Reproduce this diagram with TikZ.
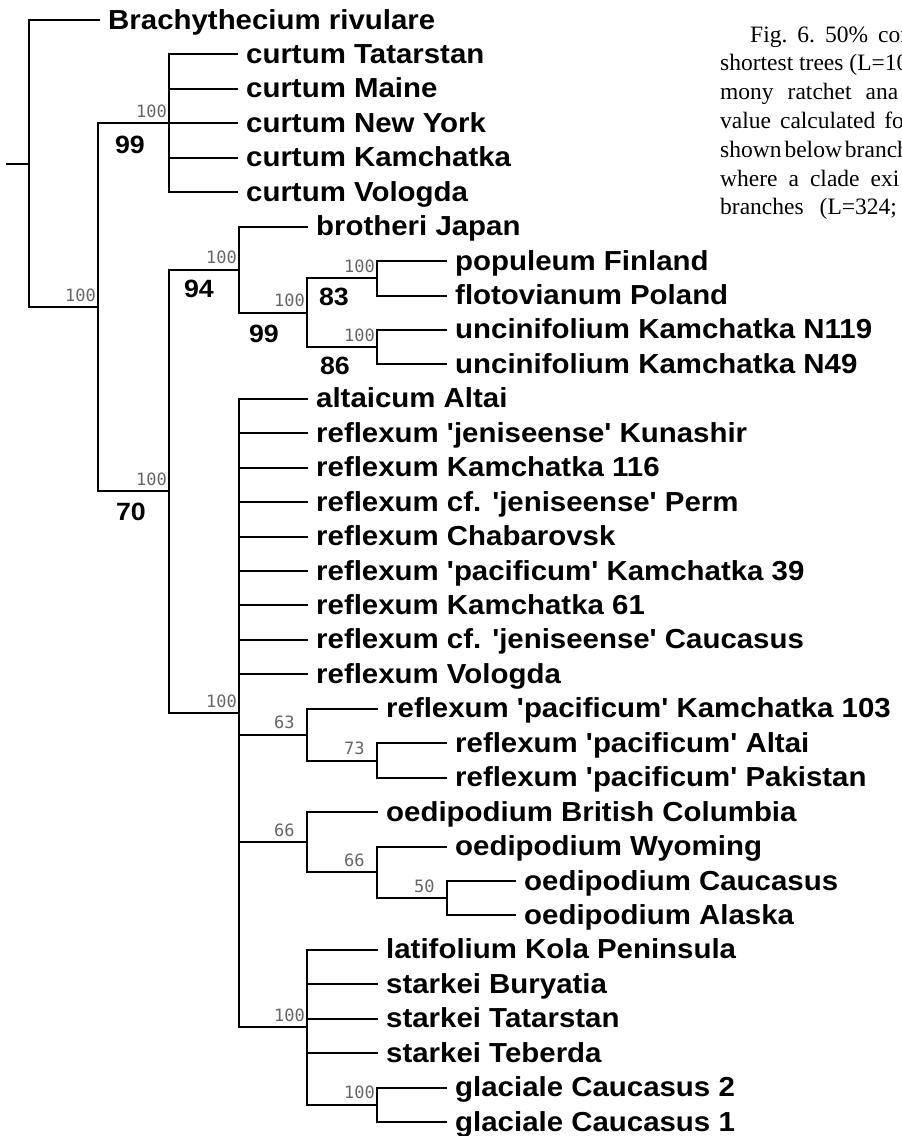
\documentclass[tikz,border=0pt]{standalone}
\usepackage{fontspec}
\newfontfamily\taxfont[FakeStretch=1.07,Ligatures=TeXOff]{Liberation Sans}
\newfontfamily\capfont{Liberation Serif}
\newfontfamily\supfont{DejaVu Sans Mono}
\begin{document}
\begin{tikzpicture}[x=1pt,y=-1pt,
  br/.style={line width=2pt},
  taxon/.style={anchor=base west, inner sep=0pt, font=\taxfont\bfseries\fontsize{27.5}{30}\selectfont},
  sup/.style={anchor=base west, inner sep=0pt, text=black!60, font=\supfont\fontsize{17}{18}\selectfont},
  bsup/.style={inner sep=0pt, font=\taxfont\bfseries\fontsize{25}{26}\selectfont},
  captxt/.style={anchor=base west, inner sep=0pt, font=\capfont\fontsize{23.5}{28}\selectfont}]
\useasboundingbox (0,0) rectangle (902,1136);
% internal nodes
\coordinate (R0) at (6,163.7);
\coordinate (R) at (29,163.7);
\coordinate (A) at (98,307.3);
\coordinate (N1) at (169,123.3);
\coordinate (N2) at (169,491.4);
\coordinate (N3) at (239,269.7);
\coordinate (N4) at (307,312.75);
\coordinate (N5) at (377,278.3);
\coordinate (N6) at (377,347.2);
\coordinate (N7) at (239,713.1);
\coordinate (N8) at (307,734.6);
\coordinate (N9) at (377,760.5);
\coordinate (N10) at (307,842.2);
\coordinate (N11) at (377,872.4);
\coordinate (N12) at (447,898.2);
\coordinate (N13) at (307,1027.4);
\coordinate (N14) at (377,1104.9);
% leaf ends
\foreach \i/\x in {1/100,2/238,3/238,4/238,5/238,6/238,7/308,8/447,9/447,10/447,11/447,
  12/308,13/308,14/308,15/308,16/308,17/308,18/308,19/308,20/308,21/378,22/447,23/447,
  24/378,25/447,26/516,27/516,28/378,29/378,30/378,31/378,32/447,33/447}
  \coordinate (L\i) at (\x,{20+(\i-1)*34.44});
% branches
\draw[br] (R0) -- (R);
\draw[br] (R) |- (L1);
\draw[br] (R) |- (A);
\draw[br] (A) |- (N1);
\draw[br] (A) |- (N2);
\foreach \i in {2,...,6} \draw[br] (N1) |- (L\i);
\draw[br] (N2) |- (N3);
\draw[br] (N2) |- (N7);
\draw[br] (N3) |- (L7);
\draw[br] (N3) |- (N4);
\draw[br] (N4) |- (N5);
\draw[br] (N4) |- (N6);
\draw[br] (N5) |- (L8);
\draw[br] (N5) |- (L9);
\draw[br] (N6) |- (L10);
\draw[br] (N6) |- (L11);
\foreach \i in {12,...,20} \draw[br] (N7) |- (L\i);
\draw[br] (N7) |- (N8);
\draw[br] (N7) |- (N10);
\draw[br] (N7) |- (N13);
\draw[br] (N8) |- (L21);
\draw[br] (N8) |- (N9);
\draw[br] (N9) |- (L22);
\draw[br] (N9) |- (L23);
\draw[br] (N10) |- (L24);
\draw[br] (N10) |- (N11);
\draw[br] (N11) |- (L25);
\draw[br] (N11) |- (N12);
\draw[br] (N12) |- (L26);
\draw[br] (N12) |- (L27);
\foreach \i in {28,...,31} \draw[br] (N13) |- (L\i);
\draw[br] (N13) |- (N14);
\draw[br] (N14) |- (L32);
\draw[br] (N14) |- (L33);
% taxon labels
\foreach \i/\t in {1/Brachythecium rivulare,2/curtum Tatarstan,3/curtum Maine,4/curtum New York,
  5/curtum Kamchatka,6/curtum Vologda,7/brotheri Japan,8/populeum Finland,9/flotovianum Poland,
  10/uncinifolium Kamchatka N119,11/uncinifolium Kamchatka N49,12/altaicum Altai,
  13/reflexum 'jeniseense' Kunashir,14/reflexum Kamchatka 116,15/reflexum cf. 'jeniseense' Perm,
  16/reflexum Chabarovsk,17/reflexum 'pacificum' Kamchatka 39,18/reflexum Kamchatka 61,
  19/reflexum cf. 'jeniseense' Caucasus,20/reflexum Vologda,21/reflexum 'pacificum' Kamchatka 103,
  22/reflexum 'pacificum' Altai,23/reflexum 'pacificum' Pakistan,24/oedipodium British Columbia,
  25/oedipodium Wyoming,26/oedipodium Caucasus,27/oedipodium Alaska,28/latifolium Kola Peninsula,
  29/starkei Buryatia,30/starkei Tatarstan,31/starkei Teberda,32/glaciale Caucasus 2,
  33/glaciale Caucasus 1}
  \node[taxon,xshift=8pt,yshift=-9pt] (t\i) at (L\i) {\t};
% support values
\foreach \n/\v in {A/100,N1/100,N2/100,N3/100,N4/100,N5/100,N6/100,N7/100,N8/63,N9/73,
  N10/66,N11/66,N12/50,N13/100,N14/100}
  \node[sup,xshift=-33pt,yshift=6pt] (s\n) at (\n) {\v};
% bold values
\node[bsup] (b1) at (130,145) {99};
\node[bsup] (b2) at (131,512) {70};
\node[bsup] (b3) at (199,288.5) {94};
\node[bsup] (b4) at (264,334) {99};
\node[bsup] (b5) at (334,297) {83};
\node[bsup] (b6) at (335,366) {86};
% caption (cut at the right edge)
\begin{scope}
\clip (0,0) rectangle (902,1136);
\node[captxt] (c1) at (750,42) {Fig.\hspace{10pt}6.\hspace{10pt}50\%\hspace{10pt}con};
\node[captxt] (c2) at (720,70.8) {shortest trees (L=10};
\node[captxt] (c3) at (720,99.6) {mony\hspace{14pt}ratchet\hspace{14pt}ana};
\node[captxt] (c4) at (720,128.4) {value\hspace{9pt}calculated\hspace{9pt}fo};
\node[captxt] (c5) at (720,157.2) {shown\hspace{3pt}below\hspace{3pt}branch};
\node[captxt] (c6) at (720,186) {where\hspace{11pt}a\hspace{11pt}clade\hspace{11pt}exi};
\node[captxt] (c7) at (720,214.8) {branches\hspace{16pt}(L=324;};
\end{scope}
\end{tikzpicture}
\end{document}
